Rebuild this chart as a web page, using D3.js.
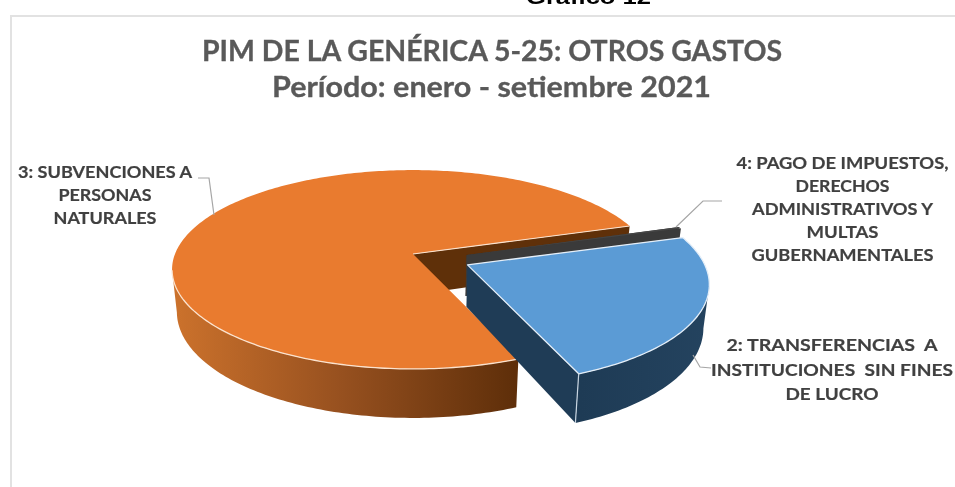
<!DOCTYPE html>
<html><head><meta charset="utf-8">
<script src="https://cdnjs.cloudflare.com/ajax/libs/d3/7.8.5/d3.min.js"></script>
<style>
html,body{margin:0;padding:0;background:#fff;overflow:hidden}
svg{display:block;filter:blur(0.4px)}
text{font-family:Lato,"Open Sans",sans-serif;font-weight:700;white-space:pre}
</style></head><body>
<svg id="c" width="955" height="487"></svg>
<script>
// ---- data ----
const categories = ["2: TRANSFERENCIAS  A\nINSTITUCIONES  SIN FINES\nDE LUCRO",
                    "3: SUBVENCIONES A\nPERSONAS\nNATURALES",
                    "4: PAGO DE IMPUESTOS,\nDERECHOS\nADMINISTRATIVOS Y\nMULTAS\nGUBERNAMENTALES"];
const shares = [23.4, 76.3, 0.3];
const titleLines = ["PIM DE LA GENÉRICA 5-25: OTROS GASTOS", "Período: enero - setiembre 2021"];
const caption = "Gráfico 12";

// ---- layout ----
const svg = d3.select("#c");
const CX = 413, CY = 254, RX = 238, RY = 97, K = 0.156;
const explode = [[0.205, 0.11], [0, 0], [0.215, 0.01]];
const apexOffset = [[0.225, 0.11], [0, 0], [0.225, 0.01]];
const topCol = ["#5B9BD5", "#E97B2F", "#454545"];
const sideCol = ["#1F3C56", "#5F3009", "#3A3A3A"];
const rad = Math.PI / 180;
const START = 73.5 * rad;

const scaleX = d3.scaleLinear().domain([0, 1]).range([CX, CX + RX]);
const scaleY = d3.scaleLinear().domain([0, 1]).range([CY, CY + RY]);
const wallH = v => 41 + 8 * v;
const BOTTOM_SHRINK = 0.98;
// perspective projection of a disc coordinate (u to the right, v to the viewer)
const proj = (u, v, z) => {
  const w = 1 - K * v;
  const x = scaleX(u / w), y = scaleY(v / w);
  return z ? [CX + (x - CX) * BOTTOM_SHRINK, y + wallH(v)] : [x, y];
};
const line = d3.line();
const closed = d3.line().curve(d3.curveLinearClosed);

const pie = d3.pie().sort(null).startAngle(START).endAngle(START + 2 * Math.PI);
const arcs = pie(shares).map((a, i) => {
  const [ox, oy] = explode[i];
  const n = Math.max(2, Math.ceil((a.endAngle - a.startAngle) / rad));
  const disc = d3.range(n + 1).map(j => {
    const t = a.startAngle + (a.endAngle - a.startAngle) * j / n;
    return [Math.sin(t) + ox, -Math.cos(t) + oy];
  });
  return {i, ox, oy, disc, apex: apexOffset[i]};
});

const defs = svg.append("defs");
const grad = defs.append("linearGradient").attr("id", "wall3")
  .attr("gradientUnits", "userSpaceOnUse").attr("x1", 173).attr("x2", 514).attr("y1", 0).attr("y2", 0);
grad.append("stop").attr("offset", 0).attr("stop-color", "#CC722C");
grad.append("stop").attr("offset", 0.5).attr("stop-color", "#96501F");
grad.append("stop").attr("offset", 1).attr("stop-color", "#5F2F0A");
const grad2 = defs.append("linearGradient").attr("id", "wall2")
  .attr("gradientUnits", "userSpaceOnUse").attr("x1", 580).attr("x2", 710).attr("y1", 0).attr("y2", 0);
grad2.append("stop").attr("offset", 0).attr("stop-color", "#1E3B55");
grad2.append("stop").attr("offset", 1).attr("stop-color", "#24435F");

// frame
svg.append("path").attr("d", line([[955, 16], [11, 16], [11, 487]]))
  .attr("fill", "none").attr("stroke", "#E2E2E2").attr("stroke-width", 2);

// caption, cropped by the top of the page
svg.append("text").attr("x", 526).attr("y", 4).attr("textLength", 125).attr("lengthAdjust", "spacingAndGlyphs")
  .style("font-family", "'Liberation Sans',Arial,sans-serif").attr("font-size", 21).attr("fill", "#000").text(caption);

// title
const titleX = [202, 272], titleY = [61, 97], titleW = [580, 439];
svg.selectAll("text.title").data(titleLines).join("text").attr("class", "title")
  .attr("x", (d, i) => titleX[i]).attr("y", (d, i) => titleY[i])
  .attr("textLength", (d, i) => titleW[i]).attr("lengthAdjust", "spacingAndGlyphs")
  .attr("font-size", 28).attr("fill", "#595959").attr("stroke", "#595959").attr("stroke-width", 0.3).text(d => d);

// slices
const wall = (pts) => {
  const up = pts.map(p => proj(p[0], p[1], false));
  const down = pts.map(p => proj(p[0], p[1], true)).reverse();
  return closed(up.concat(down));
};
const visibleArc = disc => {
  const out = [];
  disc.forEach((p, j) => {
    const prev = disc[Math.max(0, j - 1)], next = disc[Math.min(disc.length - 1, j + 1)];
    if (proj(next[0], next[1])[0] < proj(prev[0], prev[1])[0]) out.push(p);
  });
  return out;
};
const topPath = a => closed([proj(a.apex[0], a.apex[1], false)].concat(a.disc.map(p => proj(p[0], p[1], false))));

const [blue, orange, gray] = arcs;
const g = svg.append("g");
// orange: outer wall, inner wall, top
const orangeFront = visibleArc(orange.disc);
g.append("path").attr("d", wall(orangeFront)).attr("fill", "url(#wall3)");
g.append("path").attr("d", wall([orange.apex, orange.disc[orange.disc.length - 1]])).attr("fill", sideCol[1]);
g.append("path").attr("d", topPath(orange)).attr("fill", topCol[1]);
g.append("path").attr("d", line(orangeFront.map(p => proj(p[0], p[1], false))))
  .attr("fill", "none").attr("stroke", "#FBE3CF").attr("stroke-width", 1.3);
g.append("path").attr("d", line([orange.apex, orange.disc[orange.disc.length - 1]].map(p => proj(p[0], p[1], false))))
  .attr("fill", "none").attr("stroke", "#FBE3CF").attr("stroke-width", 1.2);
// gray
g.append("path").attr("d", wall([gray.apex, gray.disc[0]])).attr("fill", sideCol[2]);
g.append("path").attr("d", wall([gray.apex, gray.disc[gray.disc.length - 1]])).attr("fill", sideCol[2]);
g.append("path").attr("d", topPath(gray)).attr("fill", topCol[2]);
// blue
const blueFront = visibleArc(blue.disc);
const blueEnd = blue.disc[blue.disc.length - 1];
g.append("path").attr("d", wall([blue.apex, blueEnd])).attr("fill", sideCol[0]);
g.append("path").attr("d", wall(blueFront)).attr("fill", "url(#wall2)");
g.append("path").attr("d", topPath(blue)).attr("fill", topCol[0])
  .attr("stroke", "#E4EEF8").attr("stroke-width", 1.3).attr("stroke-linejoin", "round");
g.append("path").attr("d", line([proj(blueEnd[0], blueEnd[1], false), proj(blueEnd[0], blueEnd[1], true)]))
  .attr("stroke", "#C9D6E2").attr("stroke-width", 1.2);

// leader lines
const leaders = [
  [[693, 355], [700, 367], [711, 368]],
  [[198, 178], [209, 178], [214, 215]],
  [[722, 201], [703, 201], [676, 227]]
];
svg.selectAll("path.leader").data(leaders).join("path").attr("class", "leader")
  .attr("d", d => line(d)).attr("fill", "none").attr("stroke", "#A6A6A6").attr("stroke-width", 1.2);

// labels
const labelPos = [[832, 351, 24.5], [105, 178, 23], [842.5, 169, 23]];
const labelW = [[211, 242, 93], [174, 93, 103], [212, 94, 181, 72, 182]];
categories.forEach((c, i) => {
  c.split("\n").forEach((t, j) => {
    svg.append("text").attr("x", labelPos[i][0]).attr("y", labelPos[i][1] + j * labelPos[i][2])
      .attr("text-anchor", "middle").attr("textLength", labelW[i][j]).attr("lengthAdjust", "spacingAndGlyphs")
      .attr("font-size", 17).attr("fill", "#404040").attr("stroke", "#404040").attr("stroke-width", 0.2).text(t);
  });
});
</script></body></html>
